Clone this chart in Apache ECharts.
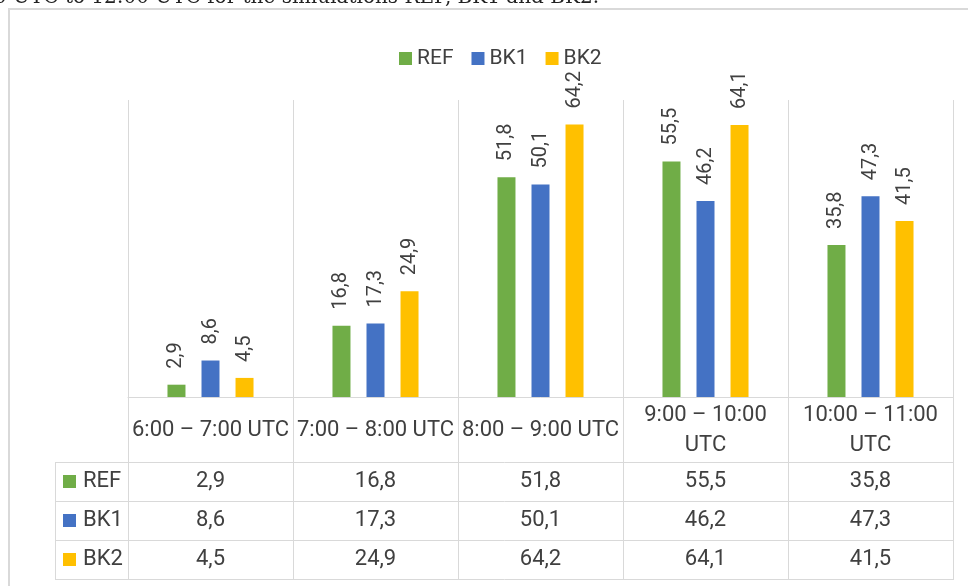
<!DOCTYPE html>
<html>
<head>
<meta charset="utf-8">
<script src="https://cdn.jsdelivr.net/npm/echarts@6/dist/echarts.min.js"></script>
<style>
  html, body { margin: 0; padding: 0; background: #fff; }
  #chart { width: 968px; height: 586px; }
</style>
</head>
<body>
<div id="chart"></div>
<script>
// Time windows (categories) and the three simulation series
const periods = ['6:00 – 7:00 UTC', '7:00 – 8:00 UTC', '8:00 – 9:00 UTC', '9:00 – 10:00 UTC', '10:00 – 11:00 UTC'];
const seriesNames = ['REF', 'BK1', 'BK2'];
const REF = [2.9, 16.8, 51.8, 55.5, 35.8];
const BK1 = [8.6, 17.3, 50.1, 46.2, 47.3];
const BK2 = [4.5, 24.9, 64.2, 64.1, 41.5];
const caption = '0 UTC to 12:00 UTC for the simulations REF, BK1 and BK2.';

const values = [REF, BK1, BK2];
const colors = ['#70AD47', '#4472C4', '#FFC000'];
const textColor = '#404040';
const lineColor = '#d9d9d9';
const font = 'Roboto';
const tableFontSize = 22;

const fmt = v => v.toFixed(1).replace('.', ',');

// wrap a header before "UTC" when it does not fit its column
const measureCtx = document.createElement('canvas').getContext('2d');
measureCtx.font = tableFontSize + 'px ' + font;
const wrapHeader = s => measureCtx.measureText(s).width > 158 ? s.replace(' UTC', '\nUTC') : s;

const chart = echarts.init(document.getElementById('chart'), null, { renderer: 'canvas' });

// table geometry (rows below the plot)
const plotBottom = 397;
const rowTops = [462, 501, 540, 579];
const tableLeft = 55;
const tableRight = 953;

const barSeries = seriesNames.map((name, k) => ({
  name: name,
  type: 'bar',
  xAxisIndex: 0,
  yAxisIndex: 0,
  data: values[k],
  barWidth: 18,
  barGap: '89%',
  itemStyle: { color: colors[k] },
  label: {
    show: true,
    position: 'top',
    rotate: 90,
    align: 'left',
    verticalAlign: 'middle',
    distance: 16,
    color: textColor,
    fontFamily: font,
    fontSize: 20,
    formatter: p => fmt(p.value)
  }
}));

// one hidden-line axis per table row, carrying that row's values as labels
const rowAxes = seriesNames.map((name, k) => ({
  type: 'category',
  gridIndex: 0,
  position: 'bottom',
  data: periods,
  offset: (rowTops[k] + rowTops[k + 1]) / 2 - plotBottom,
  axisLine: { show: false },
  axisTick: { show: false },
  splitLine: { show: false },
  axisLabel: {
    margin: 0,
    interval: 0,
    verticalAlign: 'middle',
    color: textColor,
    fontFamily: font,
    fontSize: tableFontSize,
    formatter: (v, i) => fmt(values[k][i])
  }
}));

const tableGraphics = [];
// horizontal table rules
rowTops.forEach(y => {
  tableGraphics.push({
    type: 'line', silent: true,
    shape: { x1: tableLeft, y1: y + 0.5, x2: tableRight + 1, y2: y + 0.5 },
    style: { stroke: lineColor, lineWidth: 1 }
  });
});
// left edge of the key column
tableGraphics.push({
  type: 'line', silent: true,
  shape: { x1: tableLeft + 0.5, y1: rowTops[0], x2: tableLeft + 0.5, y2: rowTops[3] + 1 },
  style: { stroke: lineColor, lineWidth: 1 }
});
// series keys in the table
seriesNames.forEach((name, k) => {
  const cy = (rowTops[k] + rowTops[k + 1]) / 2;
  tableGraphics.push({
    type: 'rect', silent: true,
    shape: { x: 63, y: cy - 6.5, width: 13, height: 13 },
    style: { fill: colors[k] }
  });
  tableGraphics.push({
    type: 'text', silent: true,
    x: 83, y: cy,
    style: { text: name, fill: textColor, font: tableFontSize + 'px ' + font, textVerticalAlign: 'middle' }
  });
});
// outer frame
tableGraphics.push({
  type: 'rect', silent: true,
  shape: { x: 9, y: 9, width: 1000, height: 700 },
  style: { fill: null, stroke: lineColor, lineWidth: 2 }
});
// running text above the frame
tableGraphics.push({
  type: 'text', silent: true,
  x: 599, y: 8,
  style: { text: caption, fill: '#222', font: '20px "DejaVu Serif"', textAlign: 'right', textVerticalAlign: 'bottom' }
});

chart.setOption({
  backgroundColor: '#fff',
  animation: false,
  legend: {
    data: seriesNames,
    left: 394,
    top: 43,
    icon: 'rect',
    itemWidth: 13,
    itemHeight: 13,
    itemGap: 18,
    textStyle: { color: textColor, fontFamily: font, fontSize: 21 }
  },
  grid: [
    { left: 128, right: 15, top: 100, bottom: 586 - plotBottom },
    { left: 128, right: 15, top: plotBottom, bottom: 586 - rowTops[3] }
  ],
  xAxis: [
    {
      type: 'category',
      gridIndex: 0,
      data: periods,
      axisLine: { show: true, lineStyle: { color: lineColor, width: 1 } },
      axisTick: { show: false },
      splitLine: { show: true, lineStyle: { color: lineColor, width: 1 } },
      axisLabel: {
        interval: 0,
        margin: 33,
        verticalAlign: 'middle',
        color: textColor,
        fontFamily: font,
        fontSize: tableFontSize,
        lineHeight: 30,
        formatter: v => wrapHeader(v)
      }
    },
    {
      type: 'category',
      gridIndex: 1,
      data: periods,
      axisLine: { show: false },
      axisTick: { show: false },
      axisLabel: { show: false },
      splitLine: { show: true, lineStyle: { color: lineColor, width: 1 } }
    },
    ...rowAxes
  ],
  yAxis: [
    { type: 'value', gridIndex: 0, min: 0, max: 70, show: false, splitLine: { show: false } },
    { type: 'value', gridIndex: 1, show: false, splitLine: { show: false } }
  ],
  graphic: tableGraphics,
  series: barSeries
});
</script>
</body>
</html>
